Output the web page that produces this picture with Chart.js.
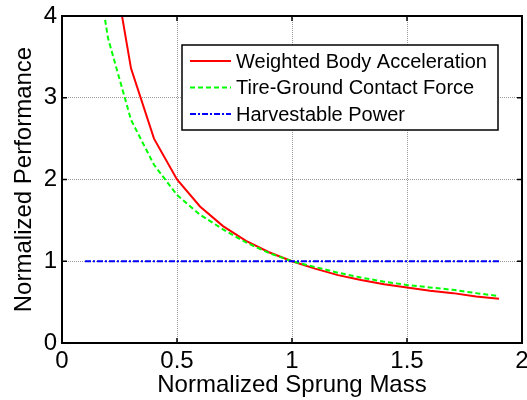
<!DOCTYPE html>
<html>
<head>
<meta charset="utf-8">
<script src="https://cdn.jsdelivr.net/npm/chart.js@4/dist/chart.umd.min.js"></script>
<style>
    html, body { margin: 0; padding: 0; background: #fff; }
    #wrap { width: 527px; height: 400px; }
</style>
</head>
<body>
<div id="wrap"><canvas id="chart" width="527" height="400"></canvas></div>
<script>
const sprungMass = [0.1, 0.2, 0.3, 0.4, 0.5, 0.6, 0.7, 0.8, 0.9, 1.0,
    1.1, 1.2, 1.3, 1.4, 1.5, 1.6, 1.7, 1.8, 1.9];
const bodyAcceleration = [10, 5, 3.36, 2.5, 2.0, 1.67, 1.43, 1.25, 1.11, 1.0,
    0.91, 0.83, 0.77, 0.72, 0.68, 0.64, 0.61, 0.57, 0.54];
const contactForce = [5.5, 3.73, 2.73, 2.18, 1.81, 1.57, 1.39, 1.23, 1.10, 1.0,
    0.93, 0.86, 0.80, 0.75, 0.71, 0.68, 0.65, 0.61, 0.575];
const harvestablePower = [1, 1, 1, 1, 1, 1, 1, 1, 1, 1,
    1, 1, 1, 1, 1, 1, 1, 1, 1];
const seriesNames = ['Weighted Body Acceleration', 'Tire-Ground Contact Force', 'Harvestable Power'];
const xTicks = [0, 0.5, 1, 1.5, 2];
const yTicks = [0, 1, 2, 3, 4];

const font = "'Liberation Sans', Arial, sans-serif";

function points(ys) {
    return sprungMass.map((x, i) => ({ x, y: ys[i] }));
}

// MATLAB-like box with inward ticks on all four sides
const framePlugin = {
    id: 'frame',
    afterDatasetsDraw(chart) {
        const { ctx, chartArea: a, scales } = chart;
        ctx.save();
        ctx.strokeStyle = '#000';
        ctx.lineWidth = 1.5;
        ctx.setLineDash([]);
        ctx.beginPath();
        xTicks.forEach((v) => {
            const px = scales.x.getPixelForValue(v);
            ctx.moveTo(px, a.bottom); ctx.lineTo(px, a.bottom - 5);
            ctx.moveTo(px, a.top); ctx.lineTo(px, a.top + 5);
        });
        yTicks.forEach((v) => {
            const py = scales.y.getPixelForValue(v);
            ctx.moveTo(a.left, py); ctx.lineTo(a.left + 5, py);
            ctx.moveTo(a.right, py); ctx.lineTo(a.right - 5, py);
        });
        ctx.stroke();
        ctx.lineWidth = 2;
        ctx.strokeRect(a.left, a.top, a.right - a.left, a.bottom - a.top);
        ctx.restore();
    },
};

// legend box drawn inside the plot, like the MATLAB original
const legendPlugin = {
    id: 'boxLegend',
    afterDraw(chart) {
        const { ctx } = chart;
        const box = { x: 182, y: 45, w: 316, h: 85 };
        ctx.save();
        ctx.fillStyle = '#fff';
        ctx.fillRect(box.x, box.y, box.w, box.h);
        ctx.strokeStyle = '#000';
        ctx.lineWidth = 1.5;
        ctx.strokeRect(box.x, box.y, box.w, box.h);
        ctx.font = '20px ' + font;
        ctx.textBaseline = 'middle';
        chart.data.datasets.forEach((ds, i) => {
            const y = 61 + i * 26.5;
            ctx.strokeStyle = ds.borderColor;
            ctx.lineWidth = ds.borderWidth;
            ctx.setLineDash(ds.borderDash || []);
            ctx.beginPath();
            ctx.moveTo(190, y);
            ctx.lineTo(231, y);
            ctx.stroke();
            ctx.setLineDash([]);
            ctx.fillStyle = '#000';
            ctx.fillText(ds.label, 236, y + 1);
        });
        ctx.restore();
    },
};

new Chart(document.getElementById('chart'), {
    type: 'line',
    data: {
        datasets: [
            {
                label: seriesNames[0],
                data: points(bodyAcceleration),
                borderColor: '#ff0000',
                borderWidth: 2,
                pointRadius: 0,
                tension: 0,
                order: 3,
            },
            {
                label: seriesNames[1],
                data: points(contactForce),
                borderColor: '#00ff00',
                borderWidth: 2,
                borderDash: [5, 3],
                pointRadius: 0,
                tension: 0,
                order: 2,
            },
            {
                label: seriesNames[2],
                data: points(harvestablePower),
                borderColor: '#0000ff',
                borderWidth: 2,
                borderDash: [6, 2, 2, 2],
                pointRadius: 0,
                tension: 0,
                order: 1,
            },
        ],
    },
    options: {
        responsive: false,
        animation: false,
        layout: { padding: { top: 16, right: 5, left: 0, bottom: 0 } },
        plugins: {
            legend: { display: false },
            tooltip: { enabled: false },
        },
        scales: {
            x: {
                type: 'linear',
                min: 0,
                max: 2,
                afterBuildTicks(scale) {
                    scale.ticks = xTicks.map((value) => ({ value }));
                },
                afterFit(scale) {
                    scale.height = 57;
                    scale.paddingLeft = 0;
                    scale.paddingRight = 0;
                },
                grid: { color: '#999', drawTicks: false },
                border: { display: false, dash: [1, 1] },
                ticks: {
                    padding: 4,
                    maxRotation: 0,
                    color: '#000',
                    font: { family: font, size: 24 },
                    callback: (v) => String(v),
                },
                title: {
                    display: true,
                    text: 'Normalized Sprung Mass',
                    color: '#000',
                    font: { family: font, size: 24 },
                    padding: { top: 0, bottom: 0 },
                },
            },
            y: {
                min: 0,
                max: 4,
                afterBuildTicks(scale) {
                    scale.ticks = yTicks.map((value) => ({ value }));
                },
                afterFit(scale) {
                    scale.width = 62;
                    scale.paddingTop = 0;
                    scale.paddingBottom = 0;
                },
                grid: { color: '#999', drawTicks: false },
                border: { display: false, dash: [1, 1] },
                ticks: {
                    padding: 5,
                    color: '#000',
                    font: { family: font, size: 24 },
                    callback: (v) => String(v),
                },
                title: {
                    display: true,
                    text: 'Normalized Performance',
                    color: '#000',
                    font: { family: font, size: 24 },
                    padding: { top: 10, bottom: 0 },
                },
            },
        },
    },
    plugins: [framePlugin, legendPlugin],
});
</script>
</body>
</html>
